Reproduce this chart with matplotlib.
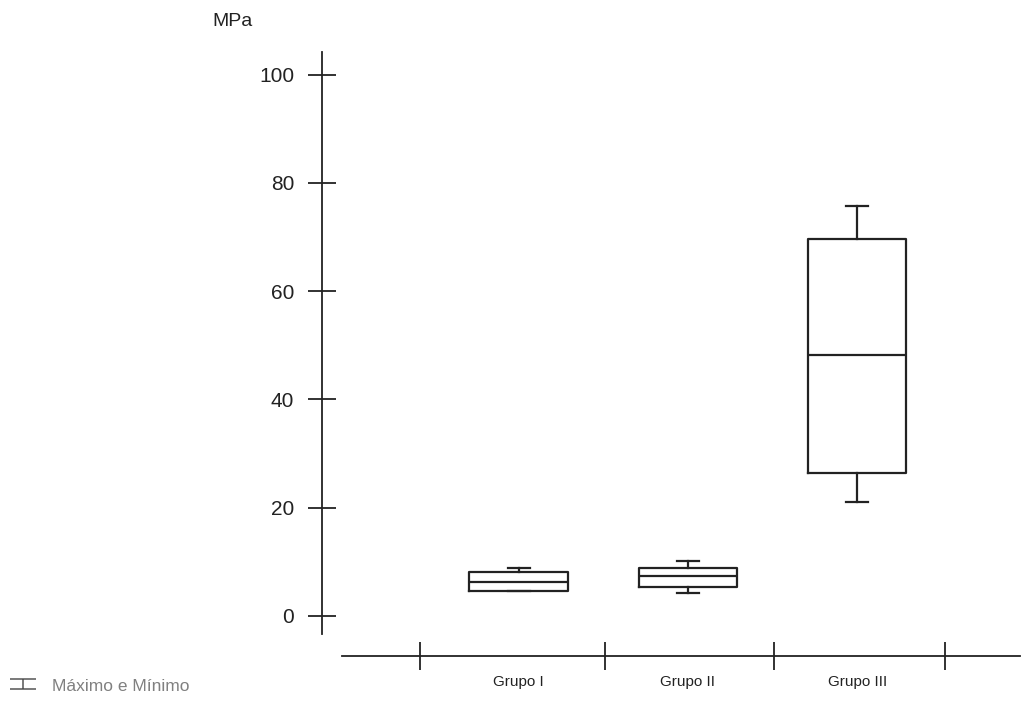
import matplotlib
matplotlib.use('Agg')
import matplotlib.pyplot as plt
from matplotlib.lines import Line2D
from matplotlib.path import Path

# Dados (MPa)
grupos = ['Grupo I', 'Grupo II', 'Grupo III']
minimos = [4.6, 4.2, 21.1]
q1 = [4.6, 5.3, 26.3]
medianas = [6.2, 7.4, 48.2]
q3 = [8.1, 8.8, 69.6]
maximos = [8.8, 10.2, 75.7]
y_ticks = [0, 20, 40, 60, 80, 100]

plt.rcParams['font.family'] = ['Liberation Sans', 'DejaVu Sans']

fig = plt.figure(figsize=(10.27, 7.03), dpi=100)
ax = fig.add_axes((322 / 1027, 1 - 656 / 703, 698 / 1027, 604 / 703))

stats = []
for g, lo, a, m, b, hi in zip(grupos, minimos, q1, medianas, q3, maximos):
    stats.append(dict(label=g, whislo=lo, q1=a, med=m, q3=b, whishi=hi, fliers=[]))

cor = '#222222'
pos = [1, 2, 3]
ax.bxp(stats, positions=pos, widths=0.58, capwidths=0.13, showfliers=False,
       boxprops=dict(color=cor, lw=1.6),
       medianprops=dict(color=cor, lw=1.6),
       whiskerprops=dict(color=cor, lw=1.6),
       capprops=dict(color=cor, lw=1.6))

# Escalas
ax.set_xlim(-0.16, 3.96)
ax.set_ylim(-7.45, 104.2)

# Eixos
for s in ['top', 'right']:
    ax.spines[s].set_visible(False)
ax.spines['left'].set_bounds(-3.4, 104.2)
ax.spines['bottom'].set_bounds(-0.04, 3.96)
for s in ['left', 'bottom']:
    ax.spines[s].set_color(cor)
    ax.spines[s].set_linewidth(1.3)

ax.set_yticks(y_ticks)
ax.set_yticklabels([str(v) for v in y_ticks])
ax.tick_params(axis='y', direction='inout', length=20, width=1.3, color=cor,
               labelsize=15, pad=10, labelcolor='#222222')

ax.set_xticks(pos)
ax.set_xticklabels(grupos)
ax.set_xticks([0.42, 1.51, 2.51, 3.52], minor=True)
ax.tick_params(axis='x', which='major', length=0, labelsize=11, pad=14,
               labelcolor='#222222')
ax.tick_params(axis='x', which='minor', direction='inout', length=20,
               width=1.3, color=cor)

fig.text(232 / 1027, 1 - 22 / 703, 'MPa', ha='center', va='center',
         fontsize=14, color='#222222')

# Legenda (icone em forma de I)
ibeam = Path([(-1, 0.4), (1, 0.4), (0, 0.4), (0, -0.4), (-1, -0.4), (1, -0.4)],
             [Path.MOVETO, Path.LINETO, Path.MOVETO, Path.LINETO,
              Path.MOVETO, Path.LINETO])
h = Line2D([], [], ls='none', marker=ibeam, markersize=19, markeredgewidth=1.1,
           markeredgecolor='#555555', markerfacecolor='none',
           label='Máximo e Mínimo')
fig.legend(handles=[h], loc='center left',
           bbox_to_anchor=(0.0, 1 - 686 / 703),
           frameon=False, fontsize=12.5, labelcolor='#808080',
           handlelength=1.6, handletextpad=0.9, borderaxespad=0.1)

fig.savefig('out.png', dpi=100)
